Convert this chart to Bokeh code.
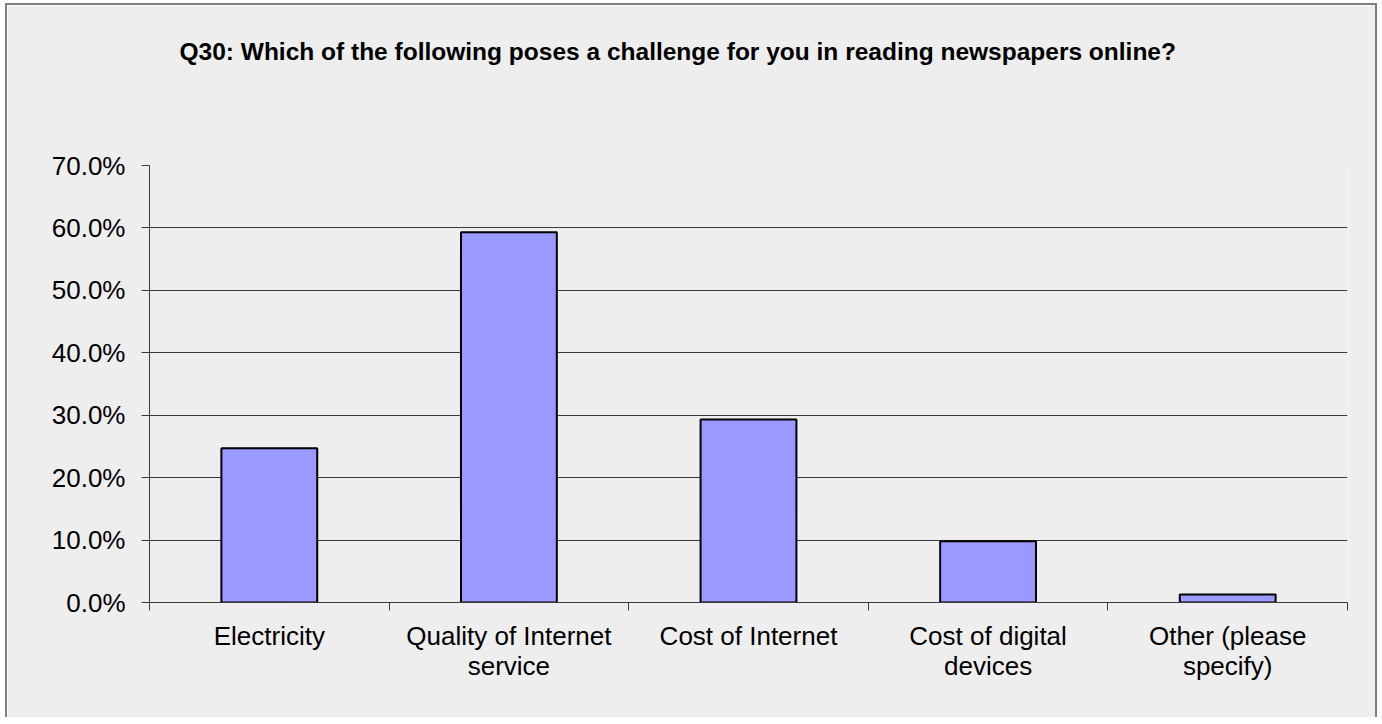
from bokeh.plotting import figure
from bokeh.models import ColumnDataSource, FixedTicker, NumeralTickFormatter, Range1d, Title
from bokeh.embed import file_html
from bokeh.resources import INLINE

title_text = "Q30: Which of the following poses a challenge for you in reading newspapers online?"
categories = ["Electricity", "Quality of Internet\nservice", "Cost of Internet",
              "Cost of digital\ndevices", "Other (please\nspecify)"]
values = [0.247, 0.593, 0.293, 0.098, 0.013]
y_ticks = [0.0, 0.1, 0.2, 0.3, 0.4, 0.5, 0.6, 0.7]

centers = [i + 0.5 for i in range(len(categories))]
bounds = list(range(len(categories) + 1))

src = ColumnDataSource(dict(x=centers, top=values))

BG = "#EEEEEE"
FONT = "Liberation Sans"

p = figure(width=1372, height=714, output_backend="svg", toolbar_location=None,
           x_range=Range1d(0, len(categories)), y_range=Range1d(0, 0.7),
           min_border_left=142, min_border_right=32, min_border_top=160,
           min_border_bottom=117, background_fill_color=BG, border_fill_color=BG)
p.styles = {"border-left": "2px solid #7f7f7f", "border-top": "2px solid #7f7f7f",
            "border-right": "2px solid #7f7f7f", "margin-left": "5px",
            "margin-top": "3px"}

p.title.text = title_text
p.title.align = "left"
p.title.offset = 30
p.title.text_font = FONT
p.title.text_font_size = "24.5px"
p.title.text_font_style = "bold"
p.title.text_color = "#000000"
p.title.standoff = 10

spacer = Title(text=" ", text_font=FONT, text_font_size="24px", standoff=67)
p.add_layout(spacer, "above")

p.vbar(x="x", top="top", bottom=0, width=0.4, source=src,
       fill_color="#9999FF", line_color="#000000", line_width=2)

p.outline_line_color = None
p.xgrid.grid_line_color = None
p.ygrid.grid_line_color = "#3a3a3a"
p.ygrid.grid_line_width = 1
p.ygrid.ticker = FixedTicker(ticks=y_ticks)

p.yaxis.ticker = FixedTicker(ticks=y_ticks)
p.yaxis.formatter = NumeralTickFormatter(format="0.0%")
p.yaxis.axis_line_color = "#3a3a3a"
p.yaxis.major_tick_line_color = "#3a3a3a"
p.yaxis.major_tick_out = 8
p.yaxis.major_tick_in = 0
p.yaxis.minor_tick_line_color = None
p.yaxis.major_label_text_font = FONT
p.yaxis.major_label_text_font_size = "26px"
p.yaxis.major_label_text_color = "#000000"
p.yaxis.major_label_standoff = 16

p.xaxis.ticker = FixedTicker(ticks=centers, minor_ticks=bounds)
p.xaxis.major_label_overrides = {c: lab for c, lab in zip(centers, categories)}
p.xaxis.axis_line_color = "#3a3a3a"
p.xaxis.major_tick_line_color = None
p.xaxis.minor_tick_line_color = "#3a3a3a"
p.xaxis.minor_tick_out = 8
p.xaxis.minor_tick_in = 0
p.xaxis.major_label_text_font = FONT
p.xaxis.major_label_text_font_size = "26px"
p.xaxis.major_label_text_line_height = 1.0
p.xaxis.major_label_text_color = "#000000"
p.xaxis.major_label_standoff = 10

open("out.html", "w").write(file_html(p, INLINE))
